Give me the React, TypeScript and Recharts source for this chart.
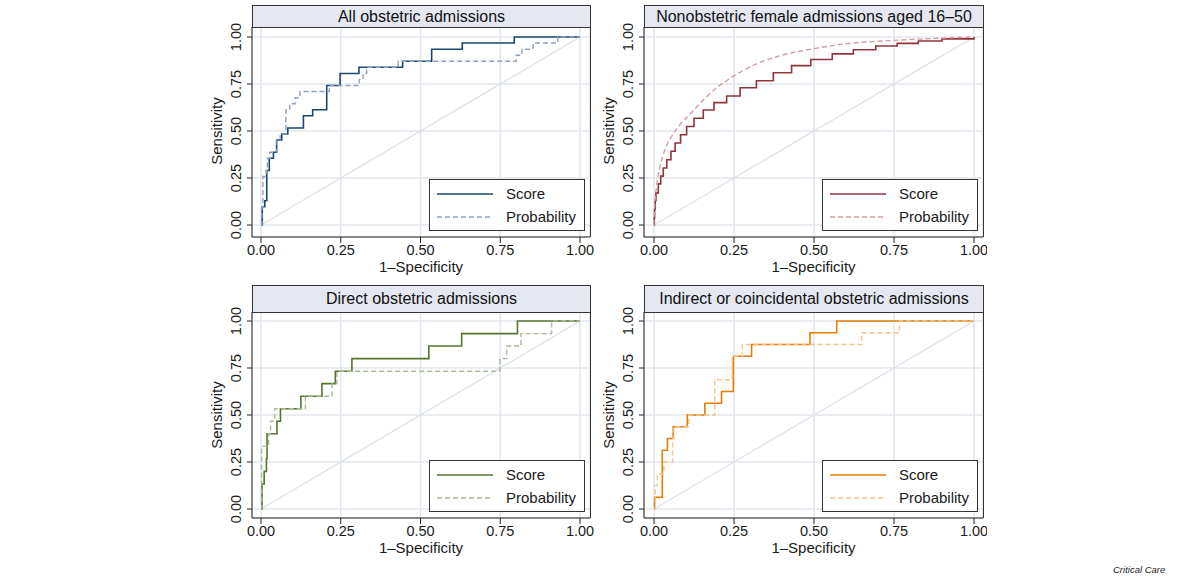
import React from "react";
import { LineChart, Line, XAxis, YAxis, CartesianGrid } from "recharts";

const FONT = '"Liberation Sans", Arial, Helvetica, sans-serif';
const TEXT = "#1a1a1a";

const axisTicks = [0, 0.25, 0.5, 0.75, 1];
const diagonal = [
  [0, 0],
  [1, 1],
];

// All obstetric admissions: [1-specificity, sensitivity]
const allScore = [
  [0, 0], [0.004, 0.097], [0.012, 0.129], [0.018, 0.29], [0.026, 0.355], [0.039, 0.387],
  [0.049, 0.452], [0.065, 0.484], [0.084, 0.516], [0.133, 0.581], [0.162, 0.613], [0.206, 0.742],
  [0.248, 0.806], [0.307, 0.839], [0.444, 0.871], [0.535, 0.935], [0.631, 0.968], [0.794, 1], [1, 1],
];
const allProb = [
  [0, 0], [0.003, 0.097], [0.006, 0.258], [0.016, 0.29], [0.02, 0.355], [0.028, 0.387],
  [0.05, 0.452], [0.06, 0.484], [0.078, 0.613], [0.09, 0.645], [0.107, 0.677], [0.122, 0.71],
  [0.214, 0.742], [0.308, 0.774], [0.32, 0.806], [0.331, 0.839], [0.43, 0.871], [0.8, 0.903],
  [0.818, 0.935], [0.853, 0.968], [0.93, 1], [1, 1],
];

// Nonobstetric female admissions aged 16–50
const nonScore = [
  [0, 0], [0.001, 0.04], [0.002, 0.085], [0.004, 0.13], [0.006, 0.171], [0.0135, 0.219],
  [0.021, 0.26], [0.029, 0.303], [0.04, 0.347], [0.053, 0.392], [0.066, 0.436], [0.083, 0.48],
  [0.102, 0.524], [0.125, 0.568], [0.154, 0.612], [0.1875, 0.651], [0.227, 0.686], [0.269, 0.73],
  [0.32, 0.767], [0.373, 0.81], [0.43, 0.848], [0.49, 0.88], [0.557, 0.91], [0.623, 0.932],
  [0.693, 0.952], [0.76, 0.966], [0.826, 0.979], [0.9, 0.99], [1, 1],
];
const nonProb = [
  [0, 0], [0.001, 0.065], [0.008, 0.206], [0.019, 0.312], [0.034, 0.4], [0.055, 0.471],
  [0.081, 0.533], [0.1125, 0.59], [0.154, 0.665], [0.196, 0.73], [0.25, 0.793], [0.32, 0.857],
  [0.404, 0.905], [0.5, 0.938], [0.58, 0.96], [0.75, 0.982], [0.87, 0.992], [1, 1],
];

// Direct obstetric admissions
const directScore = [
  [0, 0], [0.003, 0.133], [0.01, 0.2], [0.017, 0.267], [0.019, 0.4], [0.05, 0.467],
  [0.061, 0.533], [0.125, 0.6], [0.191, 0.667], [0.233, 0.733], [0.285, 0.8], [0.526, 0.867],
  [0.629, 0.933], [0.804, 1], [1, 1],
];
const directProb = [
  [0, 0], [0.002, 0.333], [0.024, 0.4], [0.03, 0.467], [0.043, 0.533], [0.139, 0.6],
  [0.223, 0.667], [0.238, 0.733], [0.749, 0.8], [0.77, 0.867], [0.815, 0.933], [0.911, 1], [1, 1],
];

// Indirect or coincidental obstetric admissions
const indirectScore = [
  [0, 0], [0.002, 0.0625], [0.026, 0.3125], [0.042, 0.375], [0.06, 0.4375], [0.104, 0.5],
  [0.159, 0.5625], [0.211, 0.625], [0.248, 0.8125], [0.305, 0.875], [0.4875, 0.9375], [0.571, 1], [1, 1],
];
const indirectProb = [
  [0, 0], [0.004, 0.125], [0.01, 0.1875], [0.031, 0.25], [0.058, 0.375], [0.062, 0.4375],
  [0.109, 0.5], [0.19, 0.6875], [0.244, 0.8125], [0.276, 0.875], [0.649, 0.9375], [0.767, 1], [1, 1],
];

const toPoints = (arr: number[][]) => arr.map(([x, y]) => ({ x, y }));

// panel placement in page pixels
const topRow = { tt: 5, tb: 27, pb: 237, y0: 225, y1: 37 };
const bottomRow = { tt: 285, tb: 312, pb: 518, y0: 509, y1: 321 };
const leftCol = { pl: 252, pr: 590, x0: 261, x1: 580 };
const rightCol = { pl: 644, pr: 983, x0: 654, x1: 974 };

type Geo = typeof topRow & typeof leftCol;

const AXW = 60;
const AXH = 45;
const MT = 16;
const RM = 4;

const YTick = (props: any) => {
  const { x, y, payload } = props;
  return (
    <text
      x={x}
      y={y}
      transform={`rotate(-90 ${x} ${y})`}
      textAnchor="middle"
      fontSize={14.5}
      fontFamily={FONT}
      fill={TEXT}
    >
      {Number(payload.value).toFixed(2)}
    </text>
  );
};

interface PanelProps {
  g: Geo;
  title: string;
  score: number[][];
  prob: number[][];
  color: string;
  probColor: string;
  smoothProb?: boolean;
}

function RocPanel({ g, title, score, prob, color, probColor, smoothProb }: PanelProps) {
  const plotW = g.pr - g.pl;
  const plotH = g.pb - g.tb;
  const xUnit = g.x1 - g.x0;
  const yUnit = g.y0 - g.y1;
  const xDomain = [-(g.x0 - g.pl) / xUnit, (g.pr - g.x0) / xUnit];
  const yDomain = [-(g.pb - g.y0) / yUnit, (g.y0 - g.tb) / yUnit];
  const midY = MT + (g.y0 + g.y1) / 2 - g.tb;
  const legendTop = g.pb - 58;
  const legendLeft = g.pr - 5 - 156;

  return (
    <>
      <div style={{ position: "absolute", left: g.pl - AXW, top: g.tb - MT }}>
        <LineChart
          width={plotW + AXW + RM}
          height={plotH + AXH + MT}
          margin={{ top: MT, right: RM, bottom: 0, left: 0 }}
        >
          <CartesianGrid stroke="#e2e7ee" strokeWidth={1.6} />
          <XAxis
            type="number"
            dataKey="x"
            domain={xDomain}
            ticks={axisTicks}
            allowDataOverflow
            height={AXH}
            tickSize={6}
            tickMargin={2}
            stroke="#222"
            tickFormatter={(v: number) => v.toFixed(2)}
            tick={{ fontSize: 14.5, fontFamily: FONT, fill: TEXT }}
            label={{
              content: () => (
                <text
                  x={AXW + plotW / 2}
                  y={MT + plotH + 35}
                  textAnchor="middle"
                  fontSize={15}
                  fontFamily={FONT}
                  fill={TEXT}
                >
                  1–Specificity
                </text>
              ),
            }}
          />
          <YAxis
            type="number"
            dataKey="y"
            domain={yDomain}
            ticks={axisTicks}
            allowDataOverflow
            width={AXW}
            tickSize={5}
            tickMargin={6}
            stroke="#222"
            tick={<YTick />}
            label={{
              content: () => (
                <text
                  x={AXW - 30}
                  y={midY}
                  transform={`rotate(-90 ${AXW - 30} ${midY})`}
                  textAnchor="middle"
                  fontSize={15}
                  fontFamily={FONT}
                  fill={TEXT}
                >
                  Sensitivity
                </text>
              ),
            }}
          />
          <Line
            data={toPoints(diagonal)}
            dataKey="y"
            type="linear"
            stroke="#dcdfe7"
            strokeWidth={1.2}
            dot={false}
            activeDot={false}
            isAnimationActive={false}
          />
          <Line
            data={toPoints(score)}
            dataKey="y"
            type="stepAfter"
            stroke={color}
            strokeWidth={1.6}
            dot={false}
            activeDot={false}
            isAnimationActive={false}
          />
          <Line
            data={toPoints(prob)}
            dataKey="y"
            type={smoothProb ? "monotone" : "stepAfter"}
            stroke={probColor}
            strokeWidth={1.4}
            strokeDasharray="5 3"
            dot={false}
            activeDot={false}
            isAnimationActive={false}
          />
        </LineChart>
      </div>
      <div
        style={{
          position: "absolute",
          left: g.pl,
          top: g.tt,
          width: plotW + 1,
          height: g.tb - g.tt + 1,
          boxSizing: "border-box",
          border: "1px solid #333",
          background: "#e5e8f1",
          display: "flex",
          alignItems: "center",
          justifyContent: "center",
          fontFamily: FONT,
          fontSize: 16,
          color: "#111",
          whiteSpace: "nowrap",
        }}
      >
        {title}
      </div>
      <div
        style={{
          position: "absolute",
          left: g.pr,
          top: g.tb,
          width: 1,
          height: plotH,
          background: "#333",
        }}
      />
      <div
        style={{
          position: "absolute",
          left: legendLeft,
          top: legendTop,
          width: 156,
          height: 52,
          boxSizing: "border-box",
          border: "1px solid #333",
          background: "#fff",
        }}
      >
        <svg width={154} height={50} style={{ display: "block" }}>
          <line x1={7} x2={63} y1={14} y2={14} stroke={color} strokeWidth={1.6} />
          <text x={76} y={19} fontSize={15} fontFamily={FONT} fill={TEXT}>
            Score
          </text>
          <line
            x1={7}
            x2={63}
            y1={37}
            y2={37}
            stroke={probColor}
            strokeWidth={1.4}
            strokeDasharray="5 3"
          />
          <text x={76} y={41.5} fontSize={15} fontFamily={FONT} fill={TEXT}>
            Probability
          </text>
        </svg>
      </div>
    </>
  );
}

export default function App() {
  return (
    <div
      style={{
        position: "absolute",
        left: 0,
        top: 0,
        width: 1200,
        height: 576,
        background: "#fff",
        overflow: "hidden",
      }}
    >
      <RocPanel
        g={{ ...topRow, ...leftCol }}
        title="All obstetric admissions"
        score={allScore}
        prob={allProb}
        color="#1a476f"
        probColor="#8ea2c0"
      />
      <RocPanel
        g={{ ...topRow, ...rightCol }}
        title="Nonobstetric female admissions aged 16–50"
        score={nonScore}
        prob={nonProb}
        color="#90353b"
        probColor="#d39ca0"
        smoothProb
      />
      <RocPanel
        g={{ ...bottomRow, ...leftCol }}
        title="Direct obstetric admissions"
        score={directScore}
        prob={directProb}
        color="#55752f"
        probColor="#aab998"
      />
      <RocPanel
        g={{ ...bottomRow, ...rightCol }}
        title="Indirect or coincidental obstetric admissions"
        score={indirectScore}
        prob={indirectProb}
        color="#e37e00"
        probColor="#f2c48a"
      />
      <div
        style={{
          position: "absolute",
          left: 1113,
          top: 564,
          fontFamily: FONT,
          fontSize: 9.5,
          fontStyle: "italic",
          color: "#222",
        }}
      >
        Critical Care
      </div>
    </div>
  );
}
